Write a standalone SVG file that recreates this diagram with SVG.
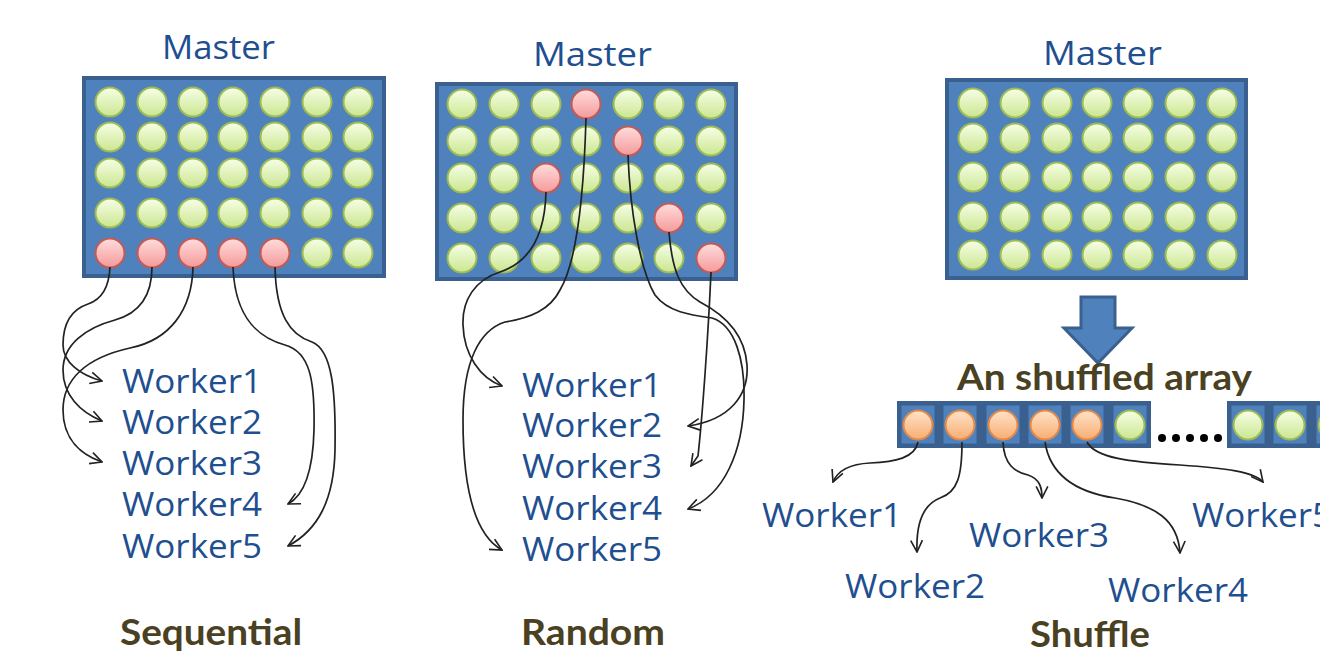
<svg xmlns="http://www.w3.org/2000/svg" width="1320" height="654" viewBox="0 0 1320 654">
<defs>
<linearGradient id="gg" x1="0" y1="0" x2="0" y2="1"><stop offset="0" stop-color="#f6ffe6"/><stop offset="1" stop-color="#cbe690"/></linearGradient>
<linearGradient id="gr" x1="0" y1="0" x2="0" y2="1"><stop offset="0" stop-color="#ffdcdc"/><stop offset="1" stop-color="#f59a9a"/></linearGradient>
<linearGradient id="go" x1="0" y1="0" x2="0" y2="1"><stop offset="0" stop-color="#ffe3c8"/><stop offset="1" stop-color="#f8ad72"/></linearGradient>
<marker id="arr" viewBox="0 0 12 12" refX="11" refY="6" markerWidth="14" markerHeight="14" markerUnits="userSpaceOnUse" orient="auto"><path d="M1,1 L11,6 L1,11" fill="none" stroke="#222" stroke-width="1.4"/></marker>
</defs>
<style>
.panel{fill:#4f81bd;stroke:#3a6090;stroke-width:4}
.cell{fill:#4f81bd;stroke:#3a6090;stroke-width:3}
.g{fill:url(#gg);stroke:#9cbb55;stroke-width:2}
.r{fill:url(#gr);stroke:#c25a56;stroke-width:2}
.o{fill:url(#go);stroke:#e2894a;stroke-width:2}
.w{font-family:"Open Sans","Liberation Sans",sans-serif;font-size:32px;fill:#1f4f8f}
.lb{font-family:Lato,"Liberation Sans",sans-serif;font-weight:bold;font-size:37px;fill:#4a4022}
.c{fill:none;stroke:#222;stroke-width:1.7;marker-end:url(#arr)}
.dot{fill:#000}
</style>
<rect width="1320" height="654" fill="#fff"/>

<g id="master-sequential">
<text class="w" x="162" y="59" textLength="113" lengthAdjust="spacingAndGlyphs">Master</text>
<rect class="panel" x="84" y="78" width="300" height="198"/>
<circle class="g" cx="110" cy="102" r="14.5"/><circle class="g" cx="152" cy="102" r="14.5"/><circle class="g" cx="193" cy="102" r="14.5"/><circle class="g" cx="233" cy="102" r="14.5"/><circle class="g" cx="275" cy="102" r="14.5"/><circle class="g" cx="317" cy="102" r="14.5"/><circle class="g" cx="358" cy="102" r="14.5"/>
<circle class="g" cx="110" cy="137" r="14.5"/><circle class="g" cx="152" cy="137" r="14.5"/><circle class="g" cx="193" cy="137" r="14.5"/><circle class="g" cx="233" cy="137" r="14.5"/><circle class="g" cx="275" cy="137" r="14.5"/><circle class="g" cx="317" cy="137" r="14.5"/><circle class="g" cx="358" cy="137" r="14.5"/>
<circle class="g" cx="110" cy="173" r="14.5"/><circle class="g" cx="152" cy="173" r="14.5"/><circle class="g" cx="193" cy="173" r="14.5"/><circle class="g" cx="233" cy="173" r="14.5"/><circle class="g" cx="275" cy="173" r="14.5"/><circle class="g" cx="317" cy="173" r="14.5"/><circle class="g" cx="358" cy="173" r="14.5"/>
<circle class="g" cx="110" cy="213" r="14.5"/><circle class="g" cx="152" cy="213" r="14.5"/><circle class="g" cx="193" cy="213" r="14.5"/><circle class="g" cx="233" cy="213" r="14.5"/><circle class="g" cx="275" cy="213" r="14.5"/><circle class="g" cx="317" cy="213" r="14.5"/><circle class="g" cx="358" cy="213" r="14.5"/>
<circle class="r" cx="110" cy="253" r="14.5"/><circle class="r" cx="152" cy="253" r="14.5"/><circle class="r" cx="193" cy="253" r="14.5"/><circle class="r" cx="233" cy="253" r="14.5"/><circle class="r" cx="275" cy="253" r="14.5"/><circle class="g" cx="317" cy="253" r="14.5"/><circle class="g" cx="358" cy="253" r="14.5"/>
</g>

<g id="master-random">
<text class="w" x="533" y="66" textLength="119" lengthAdjust="spacingAndGlyphs">Master</text>
<rect class="panel" x="437" y="84" width="299" height="195"/>
<circle class="g" cx="462" cy="104" r="14.5"/><circle class="g" cx="504" cy="104" r="14.5"/><circle class="g" cx="546" cy="104" r="14.5"/><circle class="r" cx="586" cy="104" r="14.5"/><circle class="g" cx="628" cy="104" r="14.5"/><circle class="g" cx="669" cy="104" r="14.5"/><circle class="g" cx="711" cy="104" r="14.5"/>
<circle class="g" cx="462" cy="141" r="14.5"/><circle class="g" cx="504" cy="141" r="14.5"/><circle class="g" cx="546" cy="141" r="14.5"/><circle class="g" cx="586" cy="141" r="14.5"/><circle class="r" cx="628" cy="141" r="14.5"/><circle class="g" cx="669" cy="141" r="14.5"/><circle class="g" cx="711" cy="141" r="14.5"/>
<circle class="g" cx="462" cy="178" r="14.5"/><circle class="g" cx="504" cy="178" r="14.5"/><circle class="r" cx="546" cy="178" r="14.5"/><circle class="g" cx="586" cy="178" r="14.5"/><circle class="g" cx="628" cy="178" r="14.5"/><circle class="g" cx="669" cy="178" r="14.5"/><circle class="g" cx="711" cy="178" r="14.5"/>
<circle class="g" cx="462" cy="218" r="14.5"/><circle class="g" cx="504" cy="218" r="14.5"/><circle class="g" cx="546" cy="218" r="14.5"/><circle class="g" cx="586" cy="218" r="14.5"/><circle class="g" cx="628" cy="218" r="14.5"/><circle class="r" cx="669" cy="218" r="14.5"/><circle class="g" cx="711" cy="218" r="14.5"/>
<circle class="g" cx="462" cy="258" r="14.5"/><circle class="g" cx="504" cy="258" r="14.5"/><circle class="g" cx="546" cy="258" r="14.5"/><circle class="g" cx="586" cy="258" r="14.5"/><circle class="g" cx="628" cy="258" r="14.5"/><circle class="g" cx="669" cy="258" r="14.5"/><circle class="r" cx="711" cy="258" r="14.5"/>
</g>

<g id="master-shuffle">
<text class="w" x="1043" y="65" textLength="119" lengthAdjust="spacingAndGlyphs">Master</text>
<rect class="panel" x="947" y="80" width="299" height="198"/>
<circle class="g" cx="973" cy="103" r="14.5"/><circle class="g" cx="1015" cy="103" r="14.5"/><circle class="g" cx="1057" cy="103" r="14.5"/><circle class="g" cx="1097" cy="103" r="14.5"/><circle class="g" cx="1138" cy="103" r="14.5"/><circle class="g" cx="1180" cy="103" r="14.5"/><circle class="g" cx="1222" cy="103" r="14.5"/>
<circle class="g" cx="973" cy="138" r="14.5"/><circle class="g" cx="1015" cy="138" r="14.5"/><circle class="g" cx="1057" cy="138" r="14.5"/><circle class="g" cx="1097" cy="138" r="14.5"/><circle class="g" cx="1138" cy="138" r="14.5"/><circle class="g" cx="1180" cy="138" r="14.5"/><circle class="g" cx="1222" cy="138" r="14.5"/>
<circle class="g" cx="973" cy="177" r="14.5"/><circle class="g" cx="1015" cy="177" r="14.5"/><circle class="g" cx="1057" cy="177" r="14.5"/><circle class="g" cx="1097" cy="177" r="14.5"/><circle class="g" cx="1138" cy="177" r="14.5"/><circle class="g" cx="1180" cy="177" r="14.5"/><circle class="g" cx="1222" cy="177" r="14.5"/>
<circle class="g" cx="973" cy="217" r="14.5"/><circle class="g" cx="1015" cy="217" r="14.5"/><circle class="g" cx="1057" cy="217" r="14.5"/><circle class="g" cx="1097" cy="217" r="14.5"/><circle class="g" cx="1138" cy="217" r="14.5"/><circle class="g" cx="1180" cy="217" r="14.5"/><circle class="g" cx="1222" cy="217" r="14.5"/>
<circle class="g" cx="973" cy="255" r="14.5"/><circle class="g" cx="1015" cy="255" r="14.5"/><circle class="g" cx="1057" cy="255" r="14.5"/><circle class="g" cx="1097" cy="255" r="14.5"/><circle class="g" cx="1138" cy="255" r="14.5"/><circle class="g" cx="1180" cy="255" r="14.5"/><circle class="g" cx="1222" cy="255" r="14.5"/>
</g>

<g id="shuffle-arrow">
<path d="M1081,297 L1115,297 L1115,328 L1132,328 L1098,363 L1064,328 L1081,328 Z" fill="#4f81bd" stroke="#3a6090" stroke-width="3" stroke-linejoin="miter"/>
</g>

<g id="shuffled-array">
<text class="lb" x="957" y="390" textLength="295" lengthAdjust="spacingAndGlyphs">An shuffled array</text>
<rect x="897" y="401" width="254" height="47" fill="#3a6090"/>
<rect class="cell" x="900" y="404" width="36" height="41"/><rect class="cell" x="942" y="404" width="36" height="41"/><rect class="cell" x="985" y="404" width="36" height="41"/><rect class="cell" x="1027" y="404" width="36" height="41"/><rect class="cell" x="1069" y="404" width="36" height="41"/><rect class="cell" x="1112" y="404" width="36" height="41"/>
<circle class="o" cx="918" cy="425" r="14.5"/><circle class="o" cx="960" cy="425" r="14.5"/><circle class="o" cx="1003" cy="425" r="14.5"/><circle class="o" cx="1045" cy="425" r="14.5"/><circle class="o" cx="1087" cy="425" r="14.5"/><circle class="g" cx="1130" cy="425" r="14.5"/>
<circle class="dot" cx="1162" cy="438" r="4"/><circle class="dot" cx="1176" cy="438" r="4"/><circle class="dot" cx="1190" cy="438" r="4"/><circle class="dot" cx="1204" cy="438" r="4"/><circle class="dot" cx="1218" cy="438" r="4"/>
<rect x="1227" y="401" width="130" height="47" fill="#3a6090"/>
<rect class="cell" x="1230" y="404" width="36" height="41"/><rect class="cell" x="1272" y="404" width="36" height="41"/><rect class="cell" x="1315" y="404" width="36" height="41"/>
<circle class="g" cx="1248" cy="425" r="14.5"/><circle class="g" cx="1290" cy="425" r="14.5"/><circle class="g" cx="1333" cy="425" r="14.5"/>
</g>

<g id="workers-sequential">
<text class="w" x="122" y="393" textLength="140" lengthAdjust="spacingAndGlyphs">Worker1</text>
<text class="w" x="122" y="434" textLength="140" lengthAdjust="spacingAndGlyphs">Worker2</text>
<text class="w" x="122" y="475" textLength="140" lengthAdjust="spacingAndGlyphs">Worker3</text>
<text class="w" x="122" y="516" textLength="140" lengthAdjust="spacingAndGlyphs">Worker4</text>
<text class="w" x="122" y="558" textLength="140" lengthAdjust="spacingAndGlyphs">Worker5</text>
</g>

<g id="workers-random">
<text class="w" x="522" y="397" textLength="140" lengthAdjust="spacingAndGlyphs">Worker1</text>
<text class="w" x="522" y="437" textLength="140" lengthAdjust="spacingAndGlyphs">Worker2</text>
<text class="w" x="522" y="478" textLength="140" lengthAdjust="spacingAndGlyphs">Worker3</text>
<text class="w" x="522" y="520" textLength="140" lengthAdjust="spacingAndGlyphs">Worker4</text>
<text class="w" x="522" y="561" textLength="140" lengthAdjust="spacingAndGlyphs">Worker5</text>
</g>

<g id="workers-shuffle">
<text class="w" x="762" y="527" textLength="140" lengthAdjust="spacingAndGlyphs">Worker1</text>
<text class="w" x="845" y="598" textLength="140" lengthAdjust="spacingAndGlyphs">Worker2</text>
<text class="w" x="969" y="547" textLength="140" lengthAdjust="spacingAndGlyphs">Worker3</text>
<text class="w" x="1108" y="602" textLength="140" lengthAdjust="spacingAndGlyphs">Worker4</text>
<text class="w" x="1192" y="527" textLength="140" lengthAdjust="spacingAndGlyphs">Worker5</text>
</g>

<g id="captions">
<text class="lb" x="120" y="645" textLength="182" lengthAdjust="spacingAndGlyphs">Sequential</text>
<text class="lb" x="521" y="645" textLength="144" lengthAdjust="spacingAndGlyphs">Random</text>
<text class="lb" x="1030" y="647" textLength="120" lengthAdjust="spacingAndGlyphs">Shuffle</text>
</g>

<g id="connectors">
<path class="c" d="M110,267 C109,290 100,300 88,304 C70,310 63,325 63,345 C63,362 80,375 102,381"/>
<path class="c" d="M152,267 C152,295 140,313 115,320 C85,328 63,345 63,370 C63,395 80,412 102,421"/>
<path class="c" d="M193,267 C192,310 170,340 130,348 C85,358 63,380 63,410 C63,440 82,455 102,462"/>
<path class="c" d="M233,267 C235,320 260,338 285,345 C310,352 315,380 314,430 C313,470 305,495 288,504"/>
<path class="c" d="M275,267 C276,315 290,335 312,342 C332,350 336,390 335,450 C334,500 318,530 288,546"/>

<path class="c" d="M546,192 C545,235 530,262 500,272 C475,280 462,300 463,325 C464,355 480,378 502,386"/>
<path class="c" d="M586,118 C584,190 578,260 560,290 C550,310 530,318 505,322 C480,330 463,360 463,420 C463,490 475,535 502,550"/>
<path class="c" d="M628,155 C630,210 640,270 655,295 C668,312 690,315 712,318 C735,325 745,360 744,400 C743,450 725,495 688,509"/>
<path class="c" d="M669,232 C672,270 680,290 700,302 C725,315 745,335 747,365 C749,395 730,420 688,426"/>
<path class="c" d="M711,272 C708,340 702,420 698,456 L691,466"/>

<path class="c" d="M918,442 C915,458 895,462 870,463 C850,464 838,470 833,482"/>
<path class="c" d="M962,442 C962,475 958,492 940,498 C922,505 916,525 917,552"/>
<path class="c" d="M1003,442 C1004,465 1015,472 1028,475 C1040,479 1042,488 1042,498"/>
<path class="c" d="M1045,442 C1050,475 1075,492 1115,498 C1155,505 1178,520 1180,553"/>
<path class="c" d="M1087,442 C1095,458 1130,462 1180,465 C1225,468 1255,472 1263,482"/>
</g>
</svg>
